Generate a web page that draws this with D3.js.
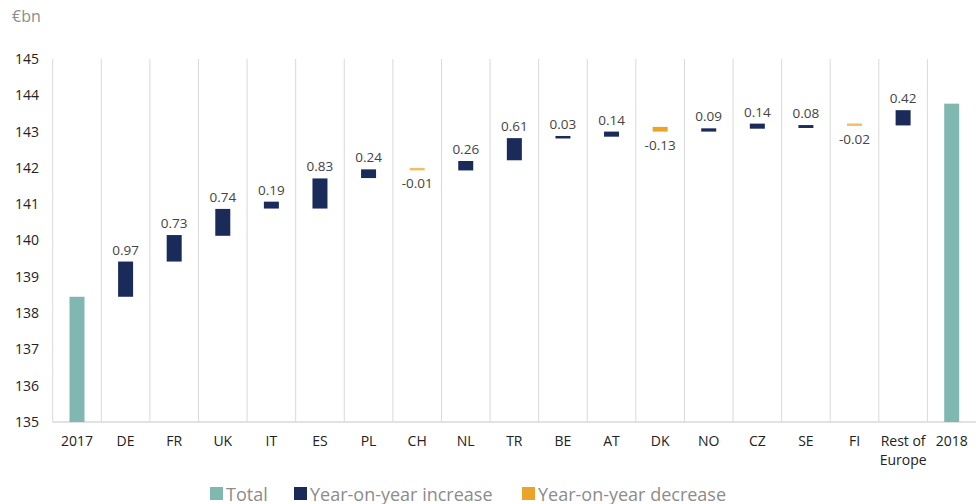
<!DOCTYPE html>
<html>
<head>
<meta charset="utf-8">
<script src="https://cdn.jsdelivr.net/npm/d3@7"></script>
<style>
body{margin:0;background:#fff;font-family:"Open Sans",sans-serif;}
svg{display:block;}
</style>
</head>
<body>
<svg id="canvas"></svg>
<script>
let categories=['2017','DE','FR','UK','IT','ES','PL','CH','NL','TR','BE','AT','DK','NO','CZ','SE','FI','Rest of Europe','2018'];
// year-on-year change per country (labels)
let changes=[0.97,0.73,0.74,0.19,0.83,0.24,-0.01,0.26,0.61,0.03,0.14,-0.13,0.09,0.14,0.08,-0.02,0.42];
// invisible base (lower end) of each floating bar
let bases=[138.45,139.42,140.13,140.88,140.88,141.72,141.96,141.93,142.21,142.83,142.86,143.0,143.0,143.08,143.1,143.18,143.17];
let startTotal=138.45;
let endTotal=143.77;
let yTicks=[135,136,137,138,139,140,141,142,143,144,145];
let legendItems=['Total','Year-on-year increase','Year-on-year decrease'];

let width=976;
let height=504;
let plotLeft=52.7, plotRight=976, plotTop=59, plotBottom=422;

let colors={total:'#80b8b1',up:'#1a2b5a',down:'#eaa42a'};

let canvas=d3.select('#canvas').attr('width',width).attr('height',height);

// build waterfall rows
let rows=[];
rows.push({name:categories[0],lo:135,hi:startTotal,type:'total'});
changes.forEach((c,i)=>{
    rows.push({name:categories[i+1],lo:bases[i],hi:bases[i]+Math.abs(c),type:c>=0?'up':'down',value:c});
});
rows.push({name:categories[categories.length-1],lo:135,hi:endTotal,type:'total'});

let xScale=d3.scaleBand().domain(categories).range([plotLeft,plotRight]).padding(0);
let yScale=d3.scaleLinear().domain([135,145]).range([plotBottom,plotTop]);

// vertical grid lines at band edges
let edges=categories.map(c=>xScale(c));
canvas.selectAll('line.grid')
    .data(edges)
    .enter()
    .append('line')
    .attr('class','grid')
    .attr('x1',d=>d).attr('x2',d=>d)
    .attr('y1',yScale(145)).attr('y2',yScale(135))
    .attr('stroke','#d9d9d9').attr('stroke-width',1);

// bottom axis line
canvas.append('line')
    .attr('x1',plotLeft).attr('x2',plotRight)
    .attr('y1',yScale(135)).attr('y2',yScale(135))
    .attr('stroke','#d9d9d9').attr('stroke-width',1.5);

// y axis labels
let yAxis=d3.axisLeft(yScale).tickValues(yTicks).tickSize(0).tickPadding(0).tickFormat(d3.format('d'));
let yg=canvas.append('g').attr('transform','translate(39,0)').call(yAxis);
yg.select('.domain').remove();
yg.selectAll('text').attr('font-family','"Open Sans",sans-serif').attr('font-size',14).attr('fill','#222');

// x axis labels
let xg=canvas.append('g').attr('transform','translate(0,'+yScale(135)+')');
xg.selectAll('text')
    .data(categories)
    .enter()
    .append('text')
    .attr('x',d=>xScale(d)+xScale.bandwidth()/2)
    .attr('y',24)
    .attr('text-anchor','middle')
    .attr('font-size',14)
    .attr('fill','#222')
    .each(function(d){
        let t=d3.select(this);
        if(d==='Rest of Europe'){
            t.append('tspan').attr('x',xScale(d)+xScale.bandwidth()/2).text('Rest of');
            t.append('tspan').attr('x',xScale(d)+xScale.bandwidth()/2).attr('dy',19).text('Europe');
        }else{
            t.text(d);
        }
    });

// bars
let barW=15;
let minH=2.5;
let barTop=d=>{
    let h=yScale(d.lo)-yScale(d.hi);
    return h<minH?(yScale(d.lo)+yScale(d.hi))/2-minH/2:yScale(d.hi);
};
let barH=d=>Math.max(yScale(d.lo)-yScale(d.hi),minH);

canvas.selectAll('rect.bar')
    .data(rows)
    .enter()
    .append('rect')
    .attr('class','bar')
    .attr('x',d=>xScale(d.name)+xScale.bandwidth()/2-barW/2)
    .attr('width',barW)
    .attr('y',barTop)
    .attr('height',barH)
    .attr('fill',d=>colors[d.type])
    .attr('opacity',d=>d.type==='down'&&Math.abs(d.value)<0.05?0.7:1);

// value labels
canvas.selectAll('text.val')
    .data(rows.filter(d=>d.type!=='total'))
    .enter()
    .append('text')
    .attr('class','val')
    .attr('x',d=>xScale(d.name)+xScale.bandwidth()/2)
    .attr('y',d=>d.type==='up'?barTop(d)-7:barTop(d)+barH(d)+18)
    .attr('text-anchor','middle')
    .attr('font-size',13.5)
    .attr('fill','#444')
    .text(d=>d.value.toFixed(2));

// unit label
canvas.append('text').attr('x',12).attr('y',22).attr('font-size',16).attr('fill','#8c8c8c').text('€bn');

// legend
let legendX=[210,294,522];
let legendColors=[colors.total,colors.up,colors.down];
let lg=canvas.selectAll('g.legend')
    .data(legendItems)
    .enter()
    .append('g')
    .attr('class','legend')
    .attr('transform',(d,i)=>'translate('+legendX[i]+',487)');
lg.append('rect').attr('width',13).attr('height',13).attr('fill',(d,i)=>legendColors[i]);
lg.append('text').attr('x',16).attr('y',13.5).attr('font-size',18).attr('fill','#8c8c8c').text(d=>d);
</script>
</body>
</html>
